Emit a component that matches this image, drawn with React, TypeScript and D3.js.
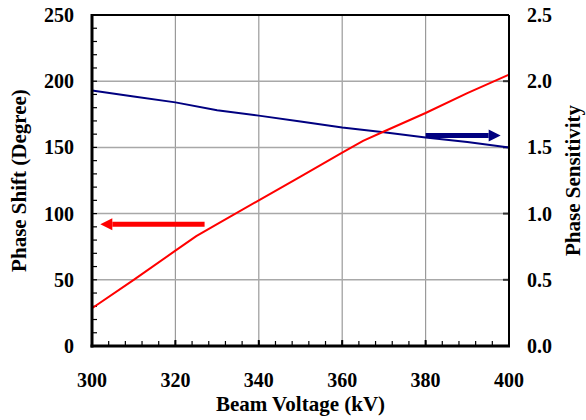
import React from "react";
import { scaleLinear, line, range } from "d3";

// beam voltage (kV)
const voltage = [300, 310, 320, 325, 330, 340, 350, 360, 365, 370, 380, 390, 400];
// phase shift (degree), left axis
const phaseShift = [28.5, 50, 72, 83, 92, 110, 128, 146, 155, 162, 176, 191, 205];
// phase sensitivity, right axis
const sensVoltage = [300, 310, 320, 330, 340, 350, 360, 370, 380, 390, 400];
const sensitivity = [1.93, 1.885, 1.84, 1.78, 1.74, 1.695, 1.65, 1.615, 1.575, 1.54, 1.5];

const xTicks = [300, 320, 340, 360, 380, 400];
const leftTicks = [0, 50, 100, 150, 200, 250];
const rightTicks = [0, 0.5, 1.0, 1.5, 2.0, 2.5];

// arrows: [fromVoltage, toVoltage, level on left axis]
const redArrow = [327, 302, 92];
const blueArrow = [380, 398, 159];

const font = "'Liberation Serif', 'Times New Roman', serif";

export default function App() {
  const width = 586, height = 420;
  const left = 92, right = 509, top = 15, bottom = 346;

  const x = scaleLinear().domain([300, 400]).range([left, right]);
  const y = scaleLinear().domain([0, 250]).range([bottom, top]);
  const y2 = scaleLinear().domain([0, 2.5]).range([bottom, top]);

  const redPath = line<number>().x((d, i) => x(voltage[i])).y(d => y(d))(phaseShift) || "";
  const bluePath = line<number>().x((d, i) => x(sensVoltage[i])).y(d => y2(d))(sensitivity) || "";

  const arrow = (a: number[], color: string) => {
    const [x0, x1, v] = a;
    const px0 = x(x0), px1 = x(x1), py = y(v);
    const dir = px1 > px0 ? 1 : -1;
    const headLen = 12, headW = 6;
    const bx = px1 - dir * headLen;
    return (
      <g>
        <line x1={px0} y1={py} x2={bx} y2={py} stroke={color} strokeWidth={5} />
        <polygon points={`${px1},${py} ${bx},${py - headW} ${bx},${py + headW}`} fill={color} />
      </g>
    );
  };

  return (
    <svg width={width} height={height} style={{ position: "absolute", left: 0, top: 0, background: "#fff" }}>
      {/* grid */}
      {xTicks.slice(1, -1).map(t => (
        <line key={"gx" + t} x1={x(t)} x2={x(t)} y1={top} y2={bottom} stroke="#9a9a9a" strokeWidth={1.2} />
      ))}
      {leftTicks.slice(1, -1).map(t => (
        <line key={"gy" + t} x1={left} x2={right} y1={y(t)} y2={y(t)} stroke="#a8a8a8" strokeWidth={1.5} />
      ))}

      {/* minor ticks */}
      {range(0, 251, 10).map(t => (
        <line key={"ly" + t} x1={left} x2={left + 5} y1={y(t)} y2={y(t)} stroke="#000" strokeWidth={1.2} />
      ))}
      {range(300, 401, 4).map(t => (
        <line key={"bx" + t} x1={x(t)} x2={x(t)} y1={bottom} y2={bottom - 5} stroke="#000" strokeWidth={1.2} />
      ))}
      {xTicks.map(t => (
        <line key={"mx" + t} x1={x(t)} x2={x(t)} y1={bottom} y2={bottom - 6} stroke="#000" strokeWidth={2} />
      ))}
      {rightTicks.map(t => (
        <line key={"ry" + t} x1={right} x2={right - 6} y1={y2(t)} y2={y2(t)} stroke="#333" strokeWidth={2} />
      ))}

      {/* data */}
      <path d={bluePath} fill="none" stroke="#000080" strokeWidth={2} />
      <path d={redPath} fill="none" stroke="#ff0000" strokeWidth={2} />

      {arrow(redArrow, "#ff0000")}
      {arrow(blueArrow, "#000080")}

      {/* frame */}
      <line x1={left} x2={right} y1={top} y2={top} stroke="#000" strokeWidth={2} />
      <line x1={right} x2={right} y1={top} y2={bottom} stroke="#000" strokeWidth={2} />
      <line x1={left} x2={left} y1={top - 1} y2={bottom + 1.5} stroke="#000" strokeWidth={3} />
      <line x1={left - 1.5} x2={right + 1} y1={bottom} y2={bottom} stroke="#000" strokeWidth={3} />

      {/* tick labels */}
      <g fontFamily={font} fontWeight="bold" fontSize={20} fill="#000">
        {leftTicks.map(t => (
          <text key={"lt" + t} x={left - 18} y={y(t)} dy="0.35em" textAnchor="end">{t}</text>
        ))}
        {rightTicks.map(t => (
          <text key={"rt" + t} x={right + 18} y={y2(t)} dy="0.35em" textAnchor="start">{t.toFixed(1)}</text>
        ))}
        {xTicks.map(t => (
          <text key={"xt" + t} x={x(t)} y={387} textAnchor="middle">{t}</text>
        ))}
      </g>

      {/* axis titles */}
      <g fontFamily={font} fontWeight="bold" fontSize={21} fill="#000">
        <text x={(left + right) / 2} y={411} textAnchor="middle">Beam Voltage (kV)</text>
        <text transform={`translate(26,${(top + bottom) / 2}) rotate(-90)`} textAnchor="middle">Phase Shift (Degree)</text>
        <text transform={`translate(580,${(top + bottom) / 2}) rotate(-90)`} textAnchor="middle">Phase Sensitivity</text>
      </g>
    </svg>
  );
}
